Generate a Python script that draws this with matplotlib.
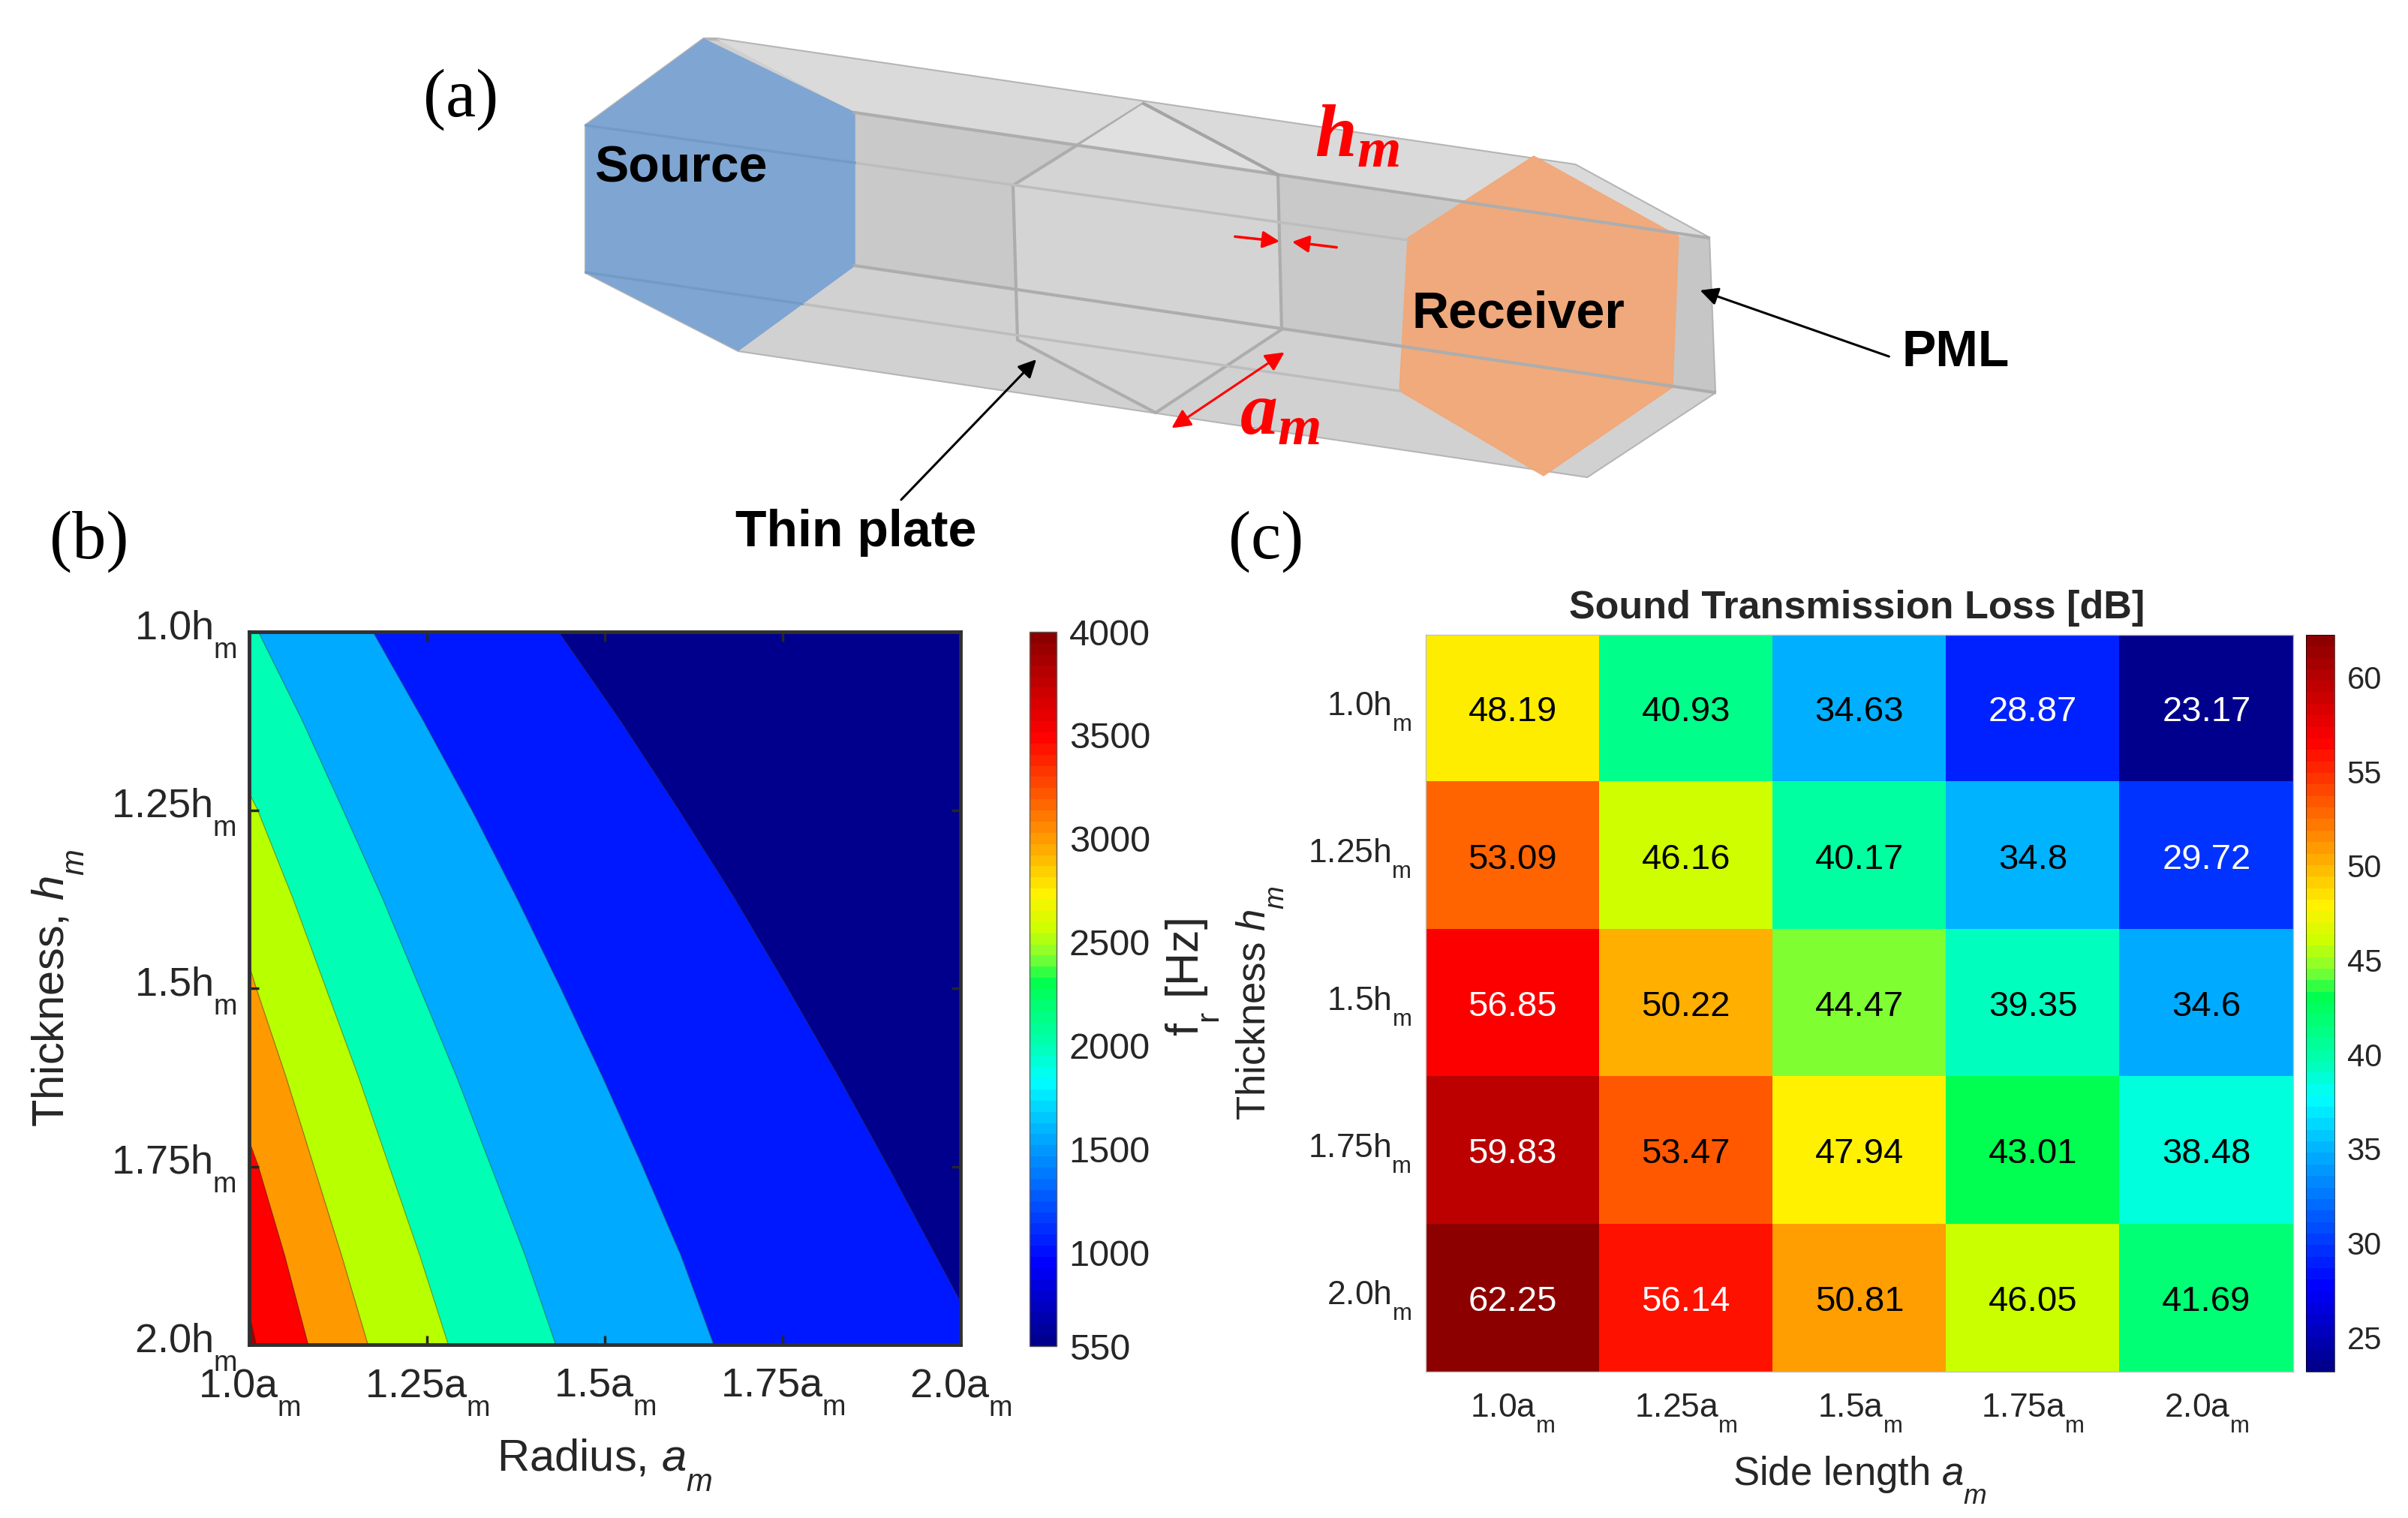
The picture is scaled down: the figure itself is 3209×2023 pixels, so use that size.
import matplotlib as mpl
import matplotlib.pyplot as plt
import numpy as np
from matplotlib import _mathtext
from matplotlib.cm import ScalarMappable
from matplotlib.colors import LinearSegmentedColormap, Normalize
from matplotlib.patches import Polygon
from matplotlib.transforms import ScaledTranslation

W, H = 3209, 2023

mpl.rcParams['font.family'] = ['Liberation Sans', 'DejaVu Sans']
mpl.rcParams['mathtext.fontset'] = 'custom'
mpl.rcParams['mathtext.rm'] = 'Liberation Sans'
mpl.rcParams['mathtext.it'] = 'Liberation Sans:italic'
mpl.rcParams['mathtext.bf'] = 'Liberation Sans:bold'
# the original has its subscripts hanging much lower
_mathtext.FontConstantsBase.subdrop = 0.9
_mathtext.FontConstantsBase.sub1 = 0.9
_mathtext.FontConstantsBase.sub2 = 0.9

band_colors = ['#0018ff', '#00aaff', '#00ffb4', '#b8ff00', '#ff9900', '#ff0000', '#a00000']
edge_h = [
    [1.0, 1.125, 1.25, 1.375, 1.5, 1.625, 1.75, 1.875, 1.94, 2.0],
    [1.0, 1.125, 1.25, 1.375, 1.5, 1.625, 1.75, 1.875, 2.0],
    [1.0, 1.125, 1.25, 1.375, 1.5, 1.625, 1.75, 1.875, 2.0],
    [1.226, 1.25, 1.375, 1.5, 1.625, 1.75, 1.875, 2.0],
    [1.468, 1.5, 1.625, 1.75, 1.875, 2.0],
    [1.714, 1.75, 1.875, 2.0],
    [1.957, 2.0],
]
edge_a = [
    [1.435, 1.522, 1.604, 1.683, 1.757, 1.829, 1.898, 1.965, 2.0, 2.0],
    [1.174, 1.245, 1.313, 1.377, 1.438, 1.497, 1.553, 1.607, 1.653],
    [1.013, 1.075, 1.132, 1.188, 1.24, 1.292, 1.34, 1.388, 1.431],
    [1.0, 1.012, 1.062, 1.108, 1.154, 1.197, 1.24, 1.28],
    [1.0, 1.01, 1.052, 1.091, 1.13, 1.167],
    [1.0, 1.013, 1.05, 1.083],
    [1.0, 1.01],
]
b_min, b_max = 550, 4000
b_ticks = [550, 1000, 1500, 2000, 2500, 3000, 3500, 4000]

# panel (c)
stl = np.array([
    [48.19, 40.93, 34.63, 28.87, 23.17],
    [53.09, 46.16, 40.17, 34.8, 29.72],
    [56.85, 50.22, 44.47, 39.35, 34.6],
    [59.83, 53.47, 47.94, 43.01, 38.48],
    [62.25, 56.14, 50.81, 46.05, 41.69],
])
stl_text = [
    ['48.19', '40.93', '34.63', '28.87', '23.17'],
    ['53.09', '46.16', '40.17', '34.8', '29.72'],
    ['56.85', '50.22', '44.47', '39.35', '34.6'],
    ['59.83', '53.47', '47.94', '43.01', '38.48'],
    ['62.25', '56.14', '50.81', '46.05', '41.69'],
]
a_labels = ['1.0', '1.25', '1.5', '1.75', '2.0']
h_labels = ['1.0', '1.25', '1.5', '1.75', '2.0']
c_ticks = [25, 30, 35, 40, 45, 50, 55, 60]

# colormap of the figure: jet with a wider green part
cmap_stops = [
    (0.0, (0.0, 0.0, 0.55)), (0.11, (0.0, 0.0, 1.0)), (0.29, (0.0, 0.67, 1.0)),
    (0.37, (0.0, 1.0, 1.0)), (0.42, (0.0, 1.0, 0.7)), (0.51, (0.0, 1.0, 0.3)),
    (0.545, (0.5, 1.0, 0.2)), (0.585, (0.8, 1.0, 0.0)), (0.635, (1.0, 0.95, 0.0)),
    (0.71, (1.0, 0.62, 0.0)), (0.86, (1.0, 0.0, 0.0)), (1.0, (0.55, 0.0, 0.0)),
]
fig_cmap = LinearSegmentedColormap.from_list('fig_jet', cmap_stops, N=64)
smooth_cmap = LinearSegmentedColormap.from_list('fig_jet_s', cmap_stops, N=256)

dark = '#262626'


def px_axes(x0, y0, x1, y1):
    return fig.add_axes([x0 / W, 1 - y1 / H, (x1 - x0) / W, (y1 - y0) / H])


def lift_labels(labels, px):
    # tick labels sit a bit above the tick, because of the low subscript
    for lbl in labels:
        lbl.set_transform(lbl.get_transform() + ScaledTranslation(0, px / 100, fig.dpi_scale_trans))


fig = plt.figure(figsize=(W / 100, H / 100), dpi=100)

# ---- schematic (a), in pixel coordinates
sk = fig.add_axes([0, 0, 1, 1])
sk.set_xlim(0, W)
sk.set_ylim(H, 0)
sk.axis('off')

outline = [(938, 52), (955, 52), (2099, 220), (2277, 317), (2285, 523), (2115, 635),
           (984, 467), (781, 363), (781, 167)]
top_face = [(955, 52), (2099, 220), (2277, 317), (2237, 315), (1139, 150)]
mid_face = [(1139, 150), (2237, 315), (2229, 514), (1139, 354)]
low_face = [(1139, 354), (2285, 523), (2115, 635), (984, 467)]
end_face = [(2237, 315), (2277, 317), (2285, 523), (2229, 514)]
plate = [(1524, 138), (1703, 233), (1708, 439), (1540, 550), (1356, 453), (1350, 247)]
plate_tip = [(1524, 138), (1703, 233), (1437, 194)]
source = [(938, 52), (1139, 150), (1139, 354), (984, 467), (781, 363), (781, 167)]
receiver = [(2044, 208), (2237, 315), (2229, 516), (2057, 634), (1865, 521), (1876, 317)]

sk.add_patch(Polygon(outline, fc='#cfcfcf', ec='#b5b5b5', lw=3))
sk.add_patch(Polygon(top_face, fc='#dadada', ec='none'))
sk.add_patch(Polygon(mid_face, fc='#c9c9c9', ec='none'))
sk.add_patch(Polygon(low_face, fc='#d1d1d1', ec='none'))
sk.add_patch(Polygon(end_face, fc='#c6c6c6', ec='none'))
sk.plot([1139, 1876], [217, 320], color='#bdbdbd', lw=2.5)
sk.plot([1069, 1865], [405, 521], color='#bdbdbd', lw=2.5)
sk.add_patch(Polygon(plate, fc='#d4d4d4', ec='#adadad', lw=3))
sk.add_patch(Polygon(plate_tip, fc='#e0e0e0', ec='none'))
sk.plot([1139, 2277], [150, 317], color='#adadad', lw=3)
sk.plot([1139, 2285], [354, 523], color='#adadad', lw=3)
sk.plot([1524, 1703], [138, 233], color='#a4a4a4', lw=3)
sk.add_patch(Polygon(source, fc='#7fa5d2', ec='#7fa5d2', lw=1))
sk.plot([781, 1139], [167, 217], color='#749ac8', lw=2.5)
sk.plot([781, 1069], [363, 405], color='#749ac8', lw=2.5)
sk.add_patch(Polygon(receiver, fc='#f2a878', ec='#f2a878', lw=1, alpha=0.95))

for start, end in [((1643, 315), (1708, 322)), ((1784, 330), (1719, 322))]:
    sk.annotate('', xy=end, xytext=start,
                arrowprops=dict(arrowstyle='-|>', color='red', lw=2.5, mutation_scale=34))
sk.annotate('', xy=(1714, 468), xytext=(1559, 572),
            arrowprops=dict(arrowstyle='<|-|>', color='red', lw=2.2, mutation_scale=38))
sk.annotate('', xy=(1383, 477), xytext=(1199, 668),
            arrowprops=dict(arrowstyle='-|>', color='black', lw=2.2, mutation_scale=36))
sk.annotate('', xy=(2263, 386), xytext=(2520, 476),
            arrowprops=dict(arrowstyle='-|>', color='black', lw=2.2, mutation_scale=36))

for txt, x, y in [('Source', 907, 224), ('Receiver', 2023, 418), ('PML', 2606, 470),
                  ('Thin plate', 1141, 710)]:
    sk.text(x, y, txt, fontsize=49, fontweight='bold', ha='center', va='center', color='black')
for txt, x, y, size in [('h', 1780, 208, 72), ('m', 1838, 222, 54),
                        ('a', 1678, 578, 72), ('m', 1732, 592, 54)]:
    sk.text(x, y, txt, fontsize=size, color='red', family='Liberation Serif', style='italic',
            fontweight='bold', ha='center', va='baseline')
for txt, x, y in [('(a)', 614, 133), ('(b)', 119, 722), ('(c)', 1687, 722)]:
    sk.text(x, y, txt, fontsize=65, family='Liberation Serif', ha='center', va='center', color='black')

# ---- contour panel (b)
b_norm = Normalize(b_min, b_max)
ax = px_axes(332, 842, 1280, 1792)
ax.set_facecolor('#00008c')
for col, hs, aa in zip(band_colors, edge_h, edge_a):
    # band is everything left of this edge
    ax.fill_betweenx(hs, 1.0, aa, color=col, lw=0)
    ax.plot(aa, hs, color='#303030', lw=0.8, alpha=0.5)
ax.set_xlim(1, 2)
ax.set_ylim(2, 1)
ticks = [1, 1.25, 1.5, 1.75, 2]
ax.set_xticks(ticks)
ax.set_yticks(ticks)
ax.set_xticklabels([s + r'a$_{\mathrm{m}}$' for s in a_labels], fontsize=39, color=dark)
ax.set_yticklabels([s + r'h$_{\mathrm{m}}$' for s in h_labels], fontsize=39, color=dark)
ax.tick_params(direction='in', top=True, right=True, length=9, width=2.5, pad=12, color=dark)
ax.tick_params(axis='x', pad=22)
lift_labels(ax.get_yticklabels(), 10)
for s in ax.spines.values():
    s.set_linewidth(3.5)
    s.set_color('#303030')
ax.set_xlabel(r'Radius, $a_m$', fontsize=43, color=dark)
ax.set_ylabel(r'Thickness, $h_m$', fontsize=43, color=dark)
ax.xaxis.set_label_coords(0.5, -0.13)
ax.yaxis.set_label_coords(-0.229, 0.5)

cax = px_axes(1372, 842, 1408, 1794)
cb = fig.colorbar(ScalarMappable(b_norm, fig_cmap), cax=cax)
cb.set_ticks(b_ticks)
cb.ax.tick_params(labelsize=35, length=0, pad=12, labelcolor=dark)
cb.outline.set_linewidth(1)
cb.outline.set_edgecolor('#606060')
sk.text(1590, 1303, r'f$_{\mathrm{r}}$ [Hz]', fontsize=44, rotation=90, ha='center', va='center', color=dark)

# ---- heatmap panel (c)
c_norm = Normalize(stl.min(), stl.max())
ax2 = px_axes(1900, 846, 3056, 1828)
ax2.imshow(stl, cmap=smooth_cmap, norm=c_norm, aspect='auto')
for i in range(stl.shape[0]):
    for j in range(stl.shape[1]):
        col = 'white' if stl[i, j] > 55 or stl[i, j] < 30 else 'black'
        ax2.text(j, i, stl_text[i][j], color=col, fontsize=34, ha='center', va='center_baseline')
ax2.set_xticks(range(5))
ax2.set_yticks(range(5))
ax2.set_xticklabels([s + r'a$_{\mathrm{m}}$' for s in a_labels], fontsize=32, color=dark)
ax2.set_yticklabels([s + r'h$_{\mathrm{m}}$' for s in h_labels], fontsize=32, color=dark)
ax2.tick_params(length=0, pad=14)
ax2.tick_params(axis='x', pad=20)
lift_labels(ax2.get_yticklabels(), 8)
for s in ax2.spines.values():
    s.set_linewidth(1)
    s.set_color('#c0c0c0')
ax2.set_title('Sound Transmission Loss [dB]', fontsize=37.5, fontweight='bold', color=dark, pad=16, x=0.497)
ax2.set_xlabel(r'Side length $a_m$', fontsize=38, color=dark)
ax2.set_ylabel(r'Thickness $h_m$', fontsize=38, color=dark)
ax2.xaxis.set_label_coords(0.5, -0.113)
ax2.yaxis.set_label_coords(-0.161, 0.5)

cax2 = px_axes(3073, 846, 3111, 1828)
cb2 = fig.colorbar(ScalarMappable(c_norm, fig_cmap), cax=cax2)
cb2.set_ticks(c_ticks)
cb2.ax.tick_params(labelsize=30, length=0, pad=12, labelcolor=dark)
cb2.outline.set_linewidth(0.5)

fig.savefig('out.png', dpi=100)
